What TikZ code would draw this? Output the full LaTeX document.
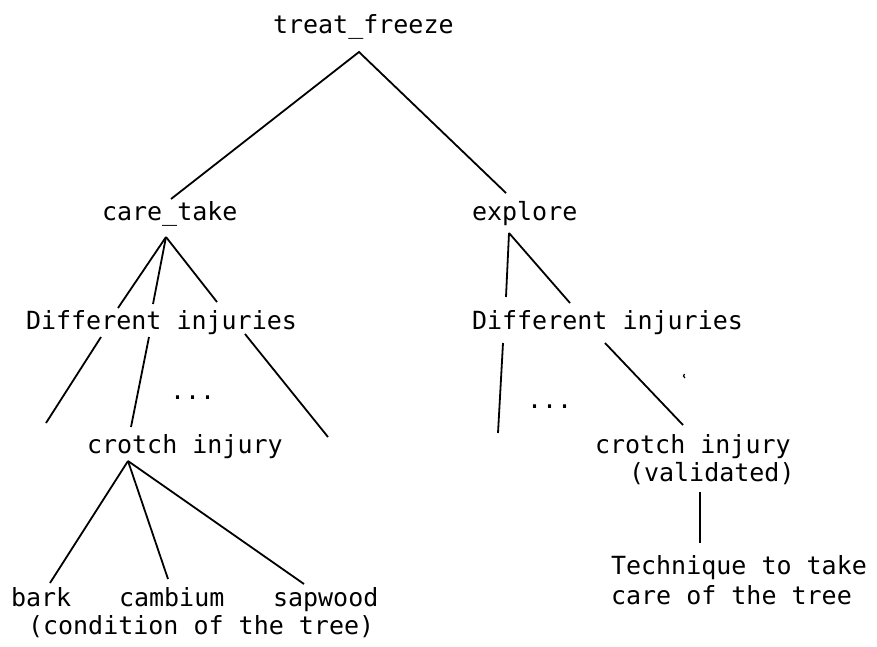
\documentclass[tikz,border=0pt]{standalone}
\usepackage{fontspec}
\newfontfamily\typew{DejaVu Sans Mono}
\begin{document}
\begin{tikzpicture}[x=1pt,y=-1pt,
  lbl/.style={anchor=base west,inner sep=0pt,outer sep=0pt,
    font=\typew\fontsize{25}{30}\selectfont},
  edge/.style={line width=1.8pt}]
\useasboundingbox[fill=white] (0,0) rectangle (877,646);

% labels (multi-line nodes sit on the baseline of their last line)
\node[lbl] (root)  at (273,33)  {treat\_freeze};
\node[lbl] (care)  at (102,220) {care\_take};
\node[lbl] (expl)  at (472,220) {explore};
\node[lbl] (difL)  at (26,329)  {Different injuries};
\node[lbl] (difR)  at (472,329) {Different injuries};
\node[lbl] (dotsL) at (170,399) {...};
\node[lbl] (dotsR) at (527,408) {...};
\node[lbl] (crotL) at (87,453)  {crotch injury};
\node[lbl] (crotR) at (595,453) {crotch injury};
\node[lbl] (valid) at (629,481) {(validated)};
\node[lbl] (bark)  at (11,606)  {bark};
\node[lbl] (camb)  at (119,606) {cambium};
\node[lbl] (sapw)  at (273,606) {sapwood};
\node[lbl] (cond)  at (28,634)  {(condition of the tree)};
\node[lbl,align=left] (tech) at (611,604) {Technique to take\\care of the tree};

% branch points and line ends
\coordinate (rootA) at (359,52);
\coordinate (careT) at (171,199);
\coordinate (explT) at (506,193);
\coordinate (careA) at (166,237);
\coordinate (explA) at (509,233);
\coordinate (cdL1) at (118,308);
\coordinate (cdL2) at (153,304);
\coordinate (cdL3) at (217,302);
\coordinate (edR1) at (506,297);
\coordinate (edR2) at (570,303);
\coordinate (dl1s) at (101,337);
\coordinate (dl1e) at (46,423);
\coordinate (dl2s) at (149,337);
\coordinate (dl2e) at (131,427);
\coordinate (dl3s) at (245,334);
\coordinate (dl3e) at (328,437);
\coordinate (dr1s) at (503,343);
\coordinate (dr1e) at (498,433);
\coordinate (dr2s) at (605,343);
\coordinate (dr2e) at (683,425);
\coordinate (crA)  at (128,461);
\coordinate (barkT) at (50,583);
\coordinate (cambT) at (168,579);
\coordinate (sapwT) at (304,584);
\coordinate (valB) at (700,492);
\coordinate (techT) at (700,543);

% connectors
\draw[edge] (careT) -- (rootA) -- (explT);
\draw[edge] (careA) -- (cdL1);
\draw[edge] (careA) -- (cdL2);
\draw[edge] (careA) -- (cdL3);
\draw[edge] (explA) -- (edR1);
\draw[edge] (explA) -- (edR2);
\draw[edge] (dl1s) -- (dl1e);
\draw[edge] (dl2s) -- (dl2e);
\draw[edge] (dl3s) -- (dl3e);
\draw[edge] (dr1s) -- (dr1e);
\draw[edge] (dr2s) -- (dr2e);
\draw[edge] (crA) -- (barkT);
\draw[edge] (crA) -- (cambT);
\draw[edge] (crA) -- (sapwT);
\draw[edge] (valB) -- (techT);

% small tick mark
\draw[line width=1.2pt] (684.5,374) .. controls (683,376) .. (685,378);
\end{tikzpicture}
\end{document}
